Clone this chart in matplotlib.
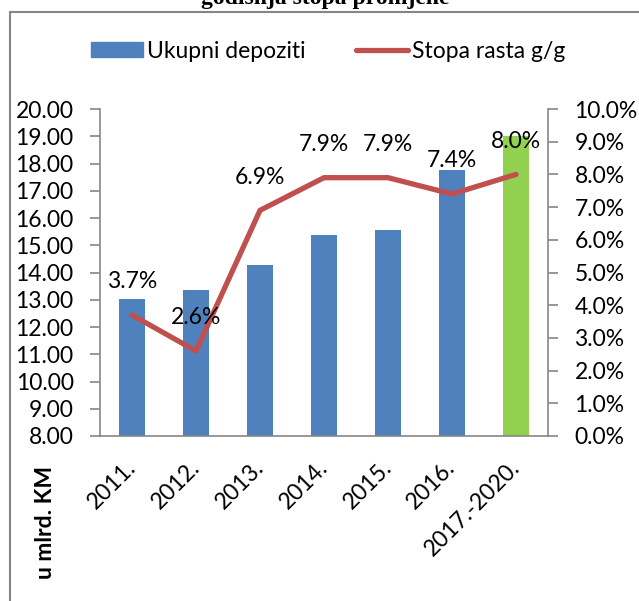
import matplotlib
matplotlib.use("Agg")
import matplotlib.pyplot as plt
from matplotlib.patches import Rectangle
from matplotlib.lines import Line2D
from matplotlib.patches import Patch

plt.rcParams['font.family'] = ['Lato', 'DejaVu Sans']

categories = ["2011.", "2012.", "2013.", "2014.", "2015.", "2016.", "2017.-2020."]
deposits = [13.02, 13.35, 14.28, 15.38, 15.55, 17.75, 19.02]
growth = [3.7, 2.6, 6.9, 7.9, 7.9, 7.4, 8.0]
left_ticks = [8, 9, 10, 11, 12, 13, 14, 15, 16, 17, 18, 19, 20]
right_ticks = [0, 1, 2, 3, 4, 5, 6, 7, 8, 9, 10]

BLUE = "#4F81BD"
GREEN = "#92D050"
RED = "#C0504D"
GREY = "#868686"
FS = 16.5

W, H = 639, 601
fig = plt.figure(figsize=(W / 100, H / 100), dpi=100)

ax = fig.add_axes([100 / W, 1 - 436 / H, 448 / W, 327 / H])
x = list(range(len(categories)))
colors = [BLUE] * (len(categories) - 1) + [GREEN]
ax.bar(x, [d - 8 for d in deposits], bottom=8, width=0.4, color=colors, zorder=2)
ax.set_xlim(-0.5, len(categories) - 0.5)
ax.set_ylim(8, 20)
ax.set_yticks(left_ticks)
ax.set_yticklabels([f"{v:.2f}" for v in left_ticks], fontsize=FS)
ax.set_xticks(x)
ax.set_xticklabels(categories, fontsize=FS, rotation=45, ha='right', va='center',
                   rotation_mode='anchor')
ax.tick_params(axis='x', length=0, pad=20)
ax.tick_params(axis='y', length=7, width=1.2, color=GREY, pad=12, direction='out')
for s in ['top', 'right']:
    ax.spines[s].set_visible(False)
for s in ['left', 'bottom']:
    ax.spines[s].set_color(GREY)
    ax.spines[s].set_linewidth(1.2)

ax2 = ax.twinx()
ax2.plot(x, growth, color=RED, lw=3.8, solid_capstyle='round', solid_joinstyle='round', zorder=3)
ax2.set_ylim(0, 10)
ax2.set_yticks(right_ticks)
ax2.set_yticklabels([f"{v:.1f}%" for v in right_ticks], fontsize=FS)
ax2.tick_params(axis='y', length=7, width=1.2, color=GREY, pad=12, direction='out')
for s in ['top', 'left', 'bottom']:
    ax2.spines[s].set_visible(False)
ax2.spines['right'].set_color(GREY)
ax2.spines['right'].set_linewidth(1.2)
for xi, g in zip(x, growth):
    ax2.annotate(f"{g:.1f}%", (xi, g), xytext=(0, 24), textcoords='offset points',
                 ha='center', va='center', fontsize=FS, zorder=4)

handles = [Patch(color=BLUE, label="Ukupni depoziti"),
           Line2D([0], [0], color=RED, lw=3.8, solid_capstyle='round', label="Stopa rasta g/g")]
fig.legend(handles=handles, loc='center', bbox_to_anchor=(328 / W, 1 - 51 / H), ncol=2,
           frameon=False, fontsize=FS, handlelength=2.3, handletextpad=0.15,
           columnspacing=2.2, handleheight=0.6)

fig.text(46 / W, 1 - 522 / H, "u mlrd. KM", rotation=90, ha='center', va='center',
         fontsize=FS, fontweight='bold')

fig.text(325 / W, 1 - 4 / H, "godišnja stopa promjene", ha='center', va='baseline',
         fontsize=17, fontweight='bold', family=['Liberation Serif', 'DejaVu Serif'])

fig.patches.append(Rectangle((10 / W, -0.05), 1.1, 1.05 - 12 / H, transform=fig.transFigure,
                             fill=False, edgecolor=GREY, lw=1.5))

fig.savefig("out.png", dpi=100)
